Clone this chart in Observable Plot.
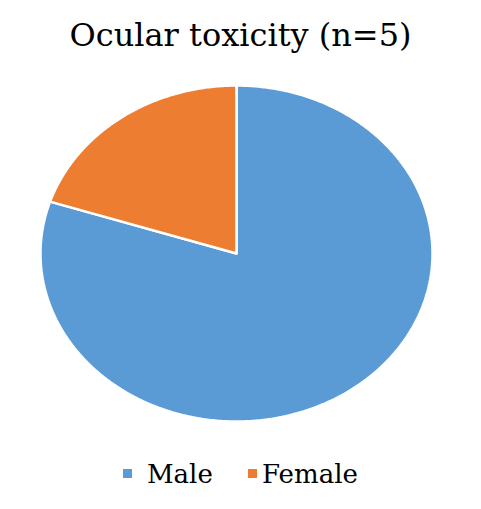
<!DOCTYPE html>
<html>
<head>
<meta charset="utf-8">
<script src="https://cdn.jsdelivr.net/npm/d3@7"></script>
<script src="https://cdn.jsdelivr.net/npm/@observablehq/plot@0.6"></script>
<style>
  html, body { margin: 0; padding: 0; background: #fff; }
  #wrap { position: relative; width: 481px; height: 509px; overflow: hidden; font-family: "DejaVu Serif"; color: #000; }
  #title { position: absolute; left: 0; width: 481px; top: 19px; text-align: center; font-size: 32px; line-height: 32px; white-space: nowrap; }
  #chart { position: absolute; left: 0; top: 62px; }
  .lg { position: absolute; font-size: 26px; line-height: 26px; white-space: nowrap; }
  .sw { position: absolute; width: 9px; height: 9px; }
</style>
</head>
<body>
<div id="wrap">
  <div id="title"></div>
  <div id="chart"></div>
  <div id="legend"></div>
</div>
<script>
const categories = ["Male", "Female"];
const values = [4, 1];
const colors = ["#5B9BD5", "#ED7D31"];
const title = "Ocular toxicity (n=5)";

document.getElementById("title").textContent = title;

const arcs = d3.pie().sort(null).value((d, i) => values[i])(categories);
const pts = [];
arcs.forEach((a, i) => {
  const cat = categories[i];
  pts.push({cat, x: 0, y: 0});
  const n = Math.max(2, Math.ceil((a.endAngle - a.startAngle) / 0.01));
  for (let k = 0; k <= n; k++) {
    const t = a.startAngle + (a.endAngle - a.startAngle) * k / n;
    pts.push({cat, x: Math.sin(t), y: Math.cos(t)});
  }
  pts.push({cat, x: 0, y: 0});
});

const plot = Plot.plot({
  width: 481,
  height: 400,
  marginLeft: 40,
  marginRight: 49,
  marginTop: 23,
  marginBottom: 41,
  x: {domain: [-1, 1], axis: null},
  y: {domain: [-1, 1], axis: null},
  color: {domain: categories, range: colors},
  marks: [
    Plot.line(pts, {x: "x", y: "y", z: "cat", fill: "cat", stroke: "white", strokeWidth: 2.5, strokeLinejoin: "miter"})
  ]
});
document.getElementById("chart").appendChild(plot);

const legend = document.getElementById("legend");
const swX = [123, 248];
const txX = [147, 262];
categories.forEach((c, i) => {
  const sw = document.createElement("div");
  sw.className = "sw";
  sw.style.left = swX[i] + "px";
  sw.style.top = "469px";
  sw.style.background = colors[i];
  legend.appendChild(sw);
  const tx = document.createElement("div");
  tx.className = "lg";
  tx.style.left = txX[i] + "px";
  tx.style.top = "461px";
  tx.textContent = c;
  legend.appendChild(tx);
});
</script>
</body>
</html>
